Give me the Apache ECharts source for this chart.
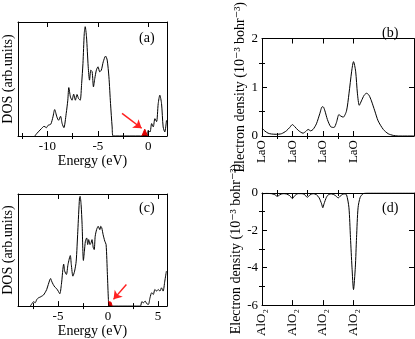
<!DOCTYPE html>
<html>
<head>
<meta charset="utf-8">
<script src="https://cdn.jsdelivr.net/npm/echarts@6/dist/echarts.min.js"></script>
<style>
html, body { margin: 0; padding: 0; background: #fff; }
#main { width: 415px; height: 339px; }
</style>
</head>
<body>
<div id="main"></div>
<script>
// panel (a): DOS, energy in eV
var aE = [-11.23,-11.06,-10.58,-10.32,-10.09,-9.92,-9.66,-9.44,-9.27,-9.05,-8.88,-8.69,-8.53,-8.36,-8.13,-7.97,-7.87,-7.71,-7.55,-7.39,-7.22,-7.06,-6.9,-6.74,-6.6,-6.47,-6.34,-6.25,-6.12,-5.95,-5.82,-5.69,-5.56,-5.43,-5.3,-5.14,-4.98,-4.81,-4.65,-4.46,-4.23,-4.07,-3.9,-3.74,-3.58,-3.48,-0.1,-0.02,0.17,0.33,0.49,0.65,0.82,0.98,1.14,1.31,1.47,1.63,1.8];
var aD = [0,2,6.5,8.5,7.3,9.4,10.3,16.7,23.2,16.7,13.8,17.3,10.9,7.3,19.6,31.4,42.5,34.3,31.4,36.7,31.4,36.4,32.8,31.4,46,63.6,90,95.9,87,60.7,49,57.8,56.3,43.1,50.4,57.8,60.7,56.3,57.8,65.1,70.1,66.6,51.9,28.4,7.9,0,0,5,3.5,10.9,8,15.2,12.6,28.4,35.8,28.4,7.9,3.5,13.8];
var aRedE = [-0.64,-0.35,-0.08];
var aRedD = [0,6,0];
var aArrow = [[-2.6,19.9],[-0.66,6.8]];
var aTicksMajor = [-10,-5,0];
var aTicksMinor = [-12.5,-7.5,-2.5];

// panel (c): DOS, energy in eV
var cE = [-7.77,-7.61,-7.44,-7.28,-7.12,-6.95,-6.79,-6.62,-6.46,-6.3,-6.13,-5.97,-5.74,-5.64,-5.48,-5.31,-5.15,-4.98,-4.82,-4.66,-4.43,-4.33,-4.16,-4.0,-3.77,-3.67,-3.51,-3.34,-3.18,-3.02,-2.85,-2.79,-2.69,-2.59,-2.46,-2.36,-2.26,-2.13,-2.03,-1.93,-1.8,-1.7,-1.6,-1.47,-1.38,-1.28,-1.14,-0.98,-0.82,-0.72,-0.62,-0.49,-0.32,-0.19,-0.06,0.04,0.1,3.22,3.38,3.55,3.71,3.88,4.04,4.2,4.37,4.53,4.69,4.86,5.02,5.19,5.35,5.51,5.68,5.84];
var cD = [0,2.1,3.9,3,5.9,7.4,8,8.9,9.8,11.9,14.8,19.3,24.6,22.3,19.3,16.9,15.7,13.4,11,19.3,37.4,31.2,28.2,37.1,45.1,37.1,26.7,31.2,40.1,66.8,96.4,97.9,90.5,72.7,40.7,48.9,57.9,60.8,54.9,59.3,54.9,56.4,59.3,51.9,50.4,62.3,68.2,71.2,68.2,71.2,69.7,63.8,57.9,54.9,28.2,5.9,0,0,3.9,3,4.5,2.1,1.5,7.4,11.9,10.4,14.8,13.4,14.8,13.4,16.3,13.4,22.3,31.2];
var cRedE = [0.0,0.05,0.3,0.42];
var cRedD = [4,4.5,3.5,0];
var cArrow = [[1.84,19.3],[0.55,6]];
var cTicksMajor = [-5,0,5];
var cTicksMinor = [-7.5,-2.5,2.5];

// panel (b): electron density, 10^-3 bohr^-3
var bX = [0,0.088,0.2,0.31,0.47,0.64,0.8,0.91,1.0,1.08,1.19,1.35,1.44,1.52,1.6,1.68,1.79,1.9,1.98,2.01,2.07,2.15,2.26,2.37,2.45,2.53,2.59,2.67,2.78,2.86,2.95,3.01,3.08,3.14,3.2,3.27,3.36,3.44,3.52,3.6,3.71,3.82,3.99,4.15,4.32,4.48,5];
var bY = [0.164,0.105,0.058,0.041,0.035,0.047,0.105,0.175,0.234,0.19,0.117,0.058,0.094,0.135,0.105,0.135,0.25,0.456,0.6,0.6,0.515,0.34,0.19,0.175,0.28,0.44,0.41,0.386,0.515,0.865,1.33,1.526,1.33,0.865,0.63,0.72,0.836,0.877,0.836,0.72,0.515,0.31,0.135,0.047,0.012,0,0];
var bLabels = ['LaO','LaO','LaO','LaO'];

// panel (d): electron density, 10^-3 bohr^-3
var dX = [0,0.14,0.31,0.42,0.505,0.59,0.69,0.8,0.91,1.0,1.08,1.19,1.32,1.41,1.49,1.58,1.68,1.79,1.88,1.96,2.0,2.04,2.12,2.2,2.29,2.4,2.51,2.59,2.7,2.78,2.86,2.91,2.96,3.01,3.07,3.11,3.16,3.23,3.33,3.49,5];
var dY = [-0.05,-0.02,-0.035,-0.09,-0.18,-0.09,-0.035,-0.05,-0.14,-0.3,-0.14,-0.035,-0.035,-0.1,-0.23,-0.1,-0.035,-0.09,-0.26,-0.58,-0.79,-0.58,-0.23,-0.07,-0.05,-0.12,-0.26,-0.14,-0.05,-0.09,-0.79,-2.38,-3.97,-5.17,-3.97,-2.38,-0.79,-0.23,-0.035,0,0];
var dLabels = ['AlO\u2082','AlO\u2082','AlO\u2082','AlO\u2082'];

var fnt = '"Liberation Serif", "DejaVu Serif", serif';

function zip(xs, ys) {
	var out = [];
	for (var i = 0; i < xs.length; i++) out.push([xs[i], ys[i]]);
	return out;
}

var xAxis = [], yAxis = [];

// per side: main axis (labels, major ticks) + minor-tick axis, then the mirrored pair
function addAxes(list, dim, grid, min, max, major, minor, label, name, nameGap) {
	var pos = dim == 'x' ? ['bottom','top'] : ['left','right'];
	var base = {
		type: 'value', gridIndex: grid, min: min, max: max,
		splitLine: {show: false},
		axisLine: {show: true, onZero: false, lineStyle: {color: '#000', width: 1}},
		axisLabel: {show: false}
	};
	for (var s = 0; s < 2; s++) {
		var m = Object.assign({}, base, {
			position: pos[s],
			axisTick: {show: major.length > 0, inside: true, length: 5, customValues: major, lineStyle: {color: '#000'}}
		});
		if (s == 0) {
			m.axisLabel = Object.assign({show: true, color: '#000', fontFamily: fnt, fontSize: 13, margin: 4, showMinLabel: true, showMaxLabel: true}, label);
			if (name) {
				m.name = name;
				m.nameLocation = 'middle';
				m.nameGap = nameGap;
				m.nameTextStyle = {color: '#000', fontFamily: fnt, fontSize: 14};
				if (dim == 'y') m.nameRotate = 90;
			}
		}
		list.push(m);
		list.push(Object.assign({}, base, {
			position: pos[s],
			axisLine: {show: false},
			axisTick: {show: minor.length > 0, inside: true, length: 3, customValues: minor, lineStyle: {color: '#000'}}
		}));
	}
}

function num(v) { return String(v); }

addAxes(xAxis, 'x', 0, -12.9, 1.85, aTicksMajor, aTicksMinor, {customValues: aTicksMajor, formatter: num}, 'Energy (eV)', 17);
addAxes(yAxis, 'y', 0, 0, 100, [], [], {show: false}, 'DOS (arb.units)', 3);

addAxes(xAxis, 'x', 1, 0, 5, [1,2,3], [0.5,1.5,2.5], {customValues: [0,1,2,3], rotate: 90, formatter: function (v) { return bLabels[Math.round(v)]; }}, null, 0);
addAxes(yAxis, 'y', 1, 0, 2, [0,1,2], [0.5,1.5], {customValues: [0,1,2], formatter: num}, 'Electron density (10\u207B\u00B3 bohr\u207B\u00B3)', 14);

addAxes(xAxis, 'x', 2, -9, 5.9, cTicksMajor, cTicksMinor, {customValues: cTicksMajor, formatter: num}, 'Energy (eV)', 17);
addAxes(yAxis, 'y', 2, 0, 100, [], [], {show: false}, 'DOS (arb.units)', 3);

addAxes(xAxis, 'x', 3, 0, 5, [1,2,3], [0.5,1.5,2.5], {customValues: [0,1,2,3], rotate: 90, formatter: function (v) { return dLabels[Math.round(v)]; }}, null, 0);
addAxes(yAxis, 'y', 3, -6, 0, [-6,-4,-2,0], [-5,-3,-1], {customValues: [-6,-4,-2,0], formatter: num}, 'Electron density (10\u207B\u00B3 bohr\u207B\u00B3)', 14);

function curve(g, data) {
	return {
		type: 'line', xAxisIndex: 4 * g, yAxisIndex: 4 * g, data: data,
		symbol: 'none', smooth: 0.25, silent: true,
		lineStyle: {color: '#000', width: 1}
	};
}

function redFill(g, data, arrow) {
	return {
		type: 'line', xAxisIndex: 4 * g, yAxisIndex: 4 * g, data: data,
		symbol: 'none', silent: true,
		lineStyle: {color: '#e00000', width: 1},
		areaStyle: {color: '#e00000', opacity: 1},
		markLine: {
			silent: true, symbol: ['none', 'arrow'], symbolSize: 8,
			label: {show: false},
			lineStyle: {color: '#ff2020', width: 1.5, type: 'solid'},
			data: [[{coord: arrow[0]}, {coord: arrow[1]}]]
		}
	};
}

function panelLabel(text, x, y) {
	return {type: 'text', left: x, top: y, style: {text: text, fill: '#000', font: '14px "Liberation Serif"'}};
}

var chart = echarts.init(document.getElementById('main'));
var option = {
	animation: false,
	grid: [
		{left: 16, top: 22, width: 151, height: 114},
		{left: 262, top: 22, width: 152, height: 114},
		{left: 16, top: 194, width: 151, height: 113},
		{left: 262, top: 193, width: 152, height: 114}
	],
	xAxis: xAxis,
	yAxis: yAxis,
	graphic: [
		panelLabel('(a)', 139, 31),
		panelLabel('(b)', 382, 26),
		panelLabel('(c)', 139, 201),
		panelLabel('(d)', 382, 201)
	],
	series: [
		curve(0, zip(aE, aD)),
		redFill(0, zip(aRedE, aRedD), aArrow),
		curve(1, zip(bX, bY)),
		curve(2, zip(cE, cD)),
		redFill(2, zip(cRedE, cRedD), cArrow),
		curve(3, zip(dX, dY))
	]
};
chart.setOption(option);
</script>
</body>
</html>
